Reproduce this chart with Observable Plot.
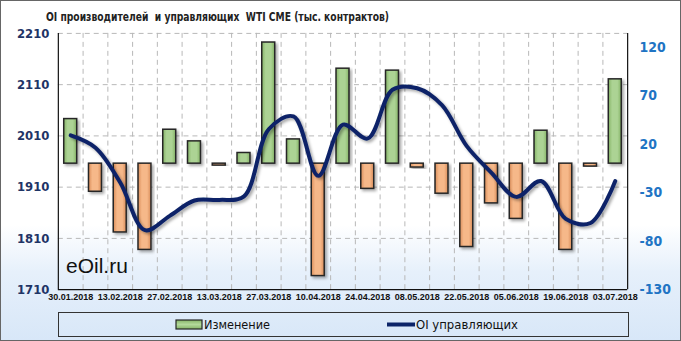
<!DOCTYPE html>
<html><head><meta charset="utf-8">
<script src="https://cdn.jsdelivr.net/npm/d3@7"></script>
<script src="https://cdn.jsdelivr.net/npm/@observablehq/plot@0.6"></script>
<style>
html,body{margin:0;padding:0;background:#fff;}
#wrap{position:relative;width:681px;height:341px;box-sizing:border-box;border:1px solid #666;
 background:linear-gradient(to bottom,#ffffff 0%,#ffffff 66%,#e6f0fb 80%,#d8e7f8 100%);overflow:hidden;font-family:"Liberation Sans",Arial,sans-serif;}
#title{position:absolute;left:0;top:0;}
#brand{position:absolute;left:65px;top:253px;font-size:21px;color:#111;}
#legend{position:absolute;left:57px;top:311px;width:571px;height:25px;box-sizing:border-box;border:1px solid #333;}
#plot{position:absolute;left:0;top:0;}
</style></head>
<body>
<div id="wrap">
  <div id="plot"></div>
  <svg id="title" width="681" height="28"><text x="45" y="20" font-size="13" font-weight="bold" fill="#222" textLength="343" lengthAdjust="spacingAndGlyphs" font-family="DejaVu Sans Condensed, DejaVu Sans, sans-serif" xml:space="preserve">OI производителей  и управляющих  WTI CME (тыс. контрактов)</text></svg>
  <div id="brand">eOil.ru</div>
  <div id="legend"></div>
</div>
<script>
const dates = ["30.01.2018","06.02.2018","13.02.2018","20.02.2018","27.02.2018","06.03.2018","13.03.2018","20.03.2018","27.03.2018","03.04.2018","10.04.2018","17.04.2018","24.04.2018","01.05.2018","08.05.2018","15.05.2018","22.05.2018","29.05.2018","05.06.2018","12.06.2018","19.06.2018","26.06.2018","03.07.2018"];
const change = [46,-29,-71,-89,35,23,-2,11,125,25,-116,98,-26,96,-4,-31,-86,-41,-57,34,-89,-3,87];
const oiManagers = [2011,1987,1919,1826,1854,1884,1885,1892,2023,2048,1932,2032,2005,2100,2103,2070,1990,1938,1891,1922,1848,1840,1922];
const leftTicks = [1710,1810,1910,2010,2110,2210];
const rightTicks = [-130,-80,-30,20,70,120];
const labelDates = dates.filter((d,i)=>i%2===0);
const seriesNames = ["Изменение","OI управляющих"];

const lMin = 1710, lMax = 2210, rMin = -130, rMax = 134.4;
const toLeft = v => lMin + (v - rMin) * (lMax - lMin) / (rMax - rMin);
const fromLeft = y => rMin + (y - lMin) * (rMax - rMin) / (lMax - lMin);

const data = dates.map((d,i)=>({i, date:d, change:change[i], oi:oiManagers[i]}));
const n = dates.length;
const half = 0.262;
const axisFont = "DejaVu Sans Condensed, DejaVu Sans, sans-serif";

const plot = Plot.plot({
  width: 681, height: 310,
  marginTop: 32, marginBottom: 21, marginLeft: 57, marginRight: 53,
  style: {background: "transparent", overflow: "visible"},
  x: {type: "linear", domain: [-0.5, n - 0.5]},
  y: {domain: [lMin, lMax]},
  marks: [
    Plot.ruleY(leftTicks.slice(1), {stroke: "#b8b8b8", strokeDasharray: "5,4", strokeWidth: 1}),
    Plot.ruleX(d3.range(n - 1).map(k => k + 0.5), {stroke: "#b8b8b8", strokeDasharray: "5,4", strokeWidth: 1}),
    Plot.rectY(data, {x1: d => d.i - half, x2: d => d.i + half, y1: toLeft(0), y2: d => toLeft(d.change),
      fill: d => d.change >= 0 ? "url(#gGreen)" : "url(#gOrange)", stroke: "#262626", strokeWidth: 1.5, className: "bars"}),
    Plot.line(data, {x: "i", y: "oi", curve: "catmull-rom", stroke: "#0c2468", strokeWidth: 4, className: "oiline"}),
    Plot.ruleX([-0.5, n - 0.5], {stroke: "#111", strokeWidth: 1.2}),
    Plot.ruleY([lMin], {stroke: "#111", strokeWidth: 1.2}),
    Plot.axisY(leftTicks, {anchor: "left", tickSize: 0, tickPadding: 9, fontSize: 13, fontWeight: "bold", fill: "#1f3466", fontFamily: axisFont, tickFormat: d => String(d), label: null}),
    Plot.axisY(rightTicks.map(toLeft), {anchor: "right", tickSize: 0, tickPadding: 12, fontSize: 14, fontWeight: "bold", fill: "#1f74c4", fontFamily: axisFont, tickFormat: d => String(Math.round(fromLeft(d))), label: null}),
    Plot.axisX(labelDates.map(d => dates.indexOf(d)), {tickSize: 0, tickPadding: 4, fontSize: 9, fontWeight: "bold", fill: "#111", fontFamily: "Liberation Sans, Arial, sans-serif", tickFormat: k => dates[k], label: null})
  ]
});

const svg = d3.select(plot);
const defs = svg.insert("defs", ":first-child");
function grad(id, edge, mid){
  const g = defs.append("linearGradient").attr("id", id).attr("x1","0").attr("x2","1").attr("y1","0").attr("y2","0");
  g.append("stop").attr("offset","0%").attr("stop-color", edge);
  g.append("stop").attr("offset","30%").attr("stop-color", mid);
  g.append("stop").attr("offset","70%").attr("stop-color", mid);
  g.append("stop").attr("offset","100%").attr("stop-color", edge);
}
grad("gGreen", "#86b467", "#acd394");
grad("gOrange", "#d98d5a", "#f6b889");
const f = defs.append("filter").attr("id","sh").attr("x","-30%").attr("y","-30%").attr("width","160%").attr("height","160%");
f.append("feDropShadow").attr("dx",2).attr("dy",2).attr("stdDeviation",1.5).attr("flood-color","#000").attr("flood-opacity",0.35);
svg.selectAll(".bars rect").attr("filter","url(#sh)");
svg.selectAll(".oiline path").attr("filter","url(#sh)");
document.getElementById("plot").appendChild(plot);

// legend
const lg = d3.select("#legend");
const ls = lg.append("svg").attr("width", 569).attr("height", 23);
const d2 = ls.append("defs").append("linearGradient").attr("id","gGreen2").attr("x1","0").attr("x2","0").attr("y1","0").attr("y2","1");
d2.append("stop").attr("offset","0%").attr("stop-color","#86b467");
d2.append("stop").attr("offset","50%").attr("stop-color","#b3d99b");
d2.append("stop").attr("offset","100%").attr("stop-color","#86b467");
ls.append("rect").attr("x", 117).attr("y", 7).attr("width", 26).attr("height", 9).attr("fill", "url(#gGreen2)").attr("stroke", "#262626").attr("stroke-width", 1.2);
ls.append("text").attr("x", 145).attr("y", 16).text(seriesNames[0]).attr("font-size", 12).attr("fill", "#111").attr("font-family", axisFont).attr("textLength", 66).attr("lengthAdjust", "spacingAndGlyphs");
ls.append("line").attr("x1", 328).attr("x2", 356).attr("y1", 11.5).attr("y2", 11.5).attr("stroke", "#0c2468").attr("stroke-width", 4);
ls.append("text").attr("x", 357).attr("y", 16).text(seriesNames[1]).attr("font-size", 12).attr("fill", "#111").attr("font-family", axisFont).attr("textLength", 102).attr("lengthAdjust", "spacingAndGlyphs");
</script>
</body></html>
